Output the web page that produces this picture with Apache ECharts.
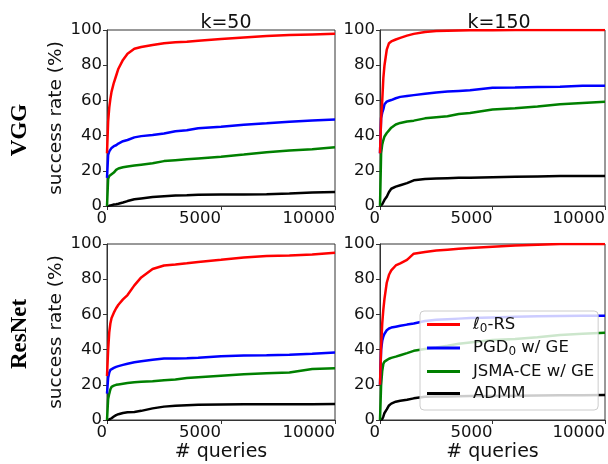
<!DOCTYPE html>
<html>
<head>
<meta charset="utf-8">
<script src="https://cdn.jsdelivr.net/npm/echarts@6/dist/echarts.min.js"></script>
<style>
  html, body { margin: 0; padding: 0; background: #fff; }
  #chart { width: 608px; height: 464px; }
</style>
</head>
<body>
<div id="chart"></div>
<script>
const queries = [0, 50, 100, 150, 200, 300, 400, 500, 700, 900, 1200, 1500, 2000, 2500, 3000, 3500, 4000, 5000, 6000, 7000, 8000, 9000, 10000];

const methods = ['ℓ0-RS', 'PGD0 w/ GE', 'JSMA-CE w/ GE', 'ADMM'];
const colors = ['#ff0000', '#0000ff', '#008000', '#000000'];

// VGG, k=50
const vgg50Rs    = [30, 48, 56, 61, 65, 70, 74, 78, 83, 86.5, 89.3, 90.3, 91.5, 92.5, 93, 93.3, 93.9, 94.9, 95.8, 96.6, 97.1, 97.5, 97.9];
const vgg50Pgd   = [16, 29, 31, 32, 33, 34, 34.5, 35.5, 36.8, 37.5, 39, 39.7, 40.3, 41.2, 42.5, 43, 44.2, 45, 46.2, 47, 47.9, 48.6, 49.1];
const vgg50Jsma  = [0, 15.5, 17, 17.5, 18, 19, 20.5, 21.3, 22, 22.5, 23, 23.5, 24.3, 25.5, 26, 26.5, 27, 28, 29.2, 30.6, 31.5, 32.3, 33.4];
const vgg50Admm  = [0, 0, 0.2, 0.3, 0.5, 0.8, 1, 1.3, 2, 2.8, 3.8, 4.3, 5.1, 5.6, 5.9, 6.1, 6.4, 6.5, 6.6, 6.7, 7.1, 7.6, 8];

// VGG, k=150
const vgg150Rs   = [30, 50, 60, 73, 80, 88.8, 92.5, 93.5, 94.6, 95.5, 96.8, 97.8, 98.9, 99.4, 99.6, 99.7, 99.8, 99.9, 100, 100, 100, 100, 100];
const vgg150Pgd  = [30, 50, 53, 55, 57.8, 59.3, 59.8, 60.2, 61.2, 62, 62.5, 63, 63.8, 64.5, 65, 65.4, 65.8, 67.2, 67.3, 67.6, 67.7, 68.3, 68.3];
const vgg150Jsma = [0, 30, 35, 37.5, 39.5, 41.5, 43, 44.5, 46.3, 47.2, 48, 48.5, 49.8, 50.4, 51, 52.3, 52.8, 54.8, 55.6, 56.6, 57.8, 58.5, 59.2];
const vgg150Admm = [0, 0, 1, 2, 3.5, 5.3, 8, 9.8, 11, 11.8, 13, 14.6, 15.3, 15.6, 15.8, 16, 16.1, 16.4, 16.6, 16.8, 17, 17.1, 17.1];

// ResNet, k=50
const res50Rs    = [25, 40, 50, 55, 58, 61, 63.5, 65.5, 68.5, 71, 76.5, 81, 85.8, 87.8, 88.3, 89, 89.8, 91, 92.3, 93.2, 93.5, 94, 95];
const res50Pgd   = [15, 24, 27, 28.5, 29, 29.6, 30.2, 30.6, 31.3, 32, 32.8, 33.4, 34.2, 34.9, 35, 35.1, 35.4, 36.2, 36.6, 36.8, 37.1, 37.6, 38.4];
const res50Jsma  = [0, 12, 15, 17.5, 18.8, 19.5, 20, 20.2, 20.6, 21, 21.5, 21.8, 22, 22.6, 23, 23.8, 24.3, 25.2, 26, 26.6, 27, 29, 29.4];
const res50Admm  = [0, 0, 0.3, 0.6, 1, 2, 2.8, 3.3, 4, 4.4, 4.6, 5.2, 6.6, 7.6, 8.1, 8.4, 8.6, 8.8, 8.9, 8.9, 8.9, 9, 9.1];

// ResNet, k=150
const res150Rs   = [20, 42, 55, 63, 69, 78, 82.5, 85, 87.8, 89, 91, 94.5, 95.5, 96.3, 96.8, 97.3, 97.7, 98.5, 99.1, 99.6, 100, 100, 100];
const res150Pgd  = [20, 40, 45, 47.5, 49, 51, 52, 52.5, 53, 53.5, 54.2, 54.8, 56.3, 57, 57.3, 57.6, 57.9, 58.3, 58.6, 58.9, 59.1, 59.2, 59.3];
const res150Jsma = [0, 20, 28, 32, 33.2, 34, 34.8, 35.3, 36, 36.8, 38, 39.3, 40.3, 41.2, 42.2, 43.3, 44, 45.4, 46, 47, 48.3, 49, 49.6];
const res150Admm = [0, 0, 0.5, 2, 4, 6, 8.3, 9.3, 10.4, 10.9, 11.5, 12.3, 13.2, 13.3, 13.4, 13.5, 13.6, 13.6, 13.8, 13.9, 14, 14.1, 14.2];

const panels = [
  [vgg50Rs, vgg50Pgd, vgg50Jsma, vgg50Admm],
  [vgg150Rs, vgg150Pgd, vgg150Jsma, vgg150Admm],
  [res50Rs, res50Pgd, res50Jsma, res50Admm],
  [res150Rs, res150Pgd, res150Jsma, res150Admm]
];

const xTicks = [0, 5000, 10000];
const yTicks = [0, 20, 40, 60, 80, 100];

const font = 'DejaVu Sans';
const axisColor = '#333';
const tickSize = 16.5;
const labelSize = 19;

const gridPos = [
  { left: 107, top: 30 },
  { left: 380, top: 30 },
  { left: 107, top: 244 },
  { left: 380, top: 244 }
];

const grids = gridPos.map(p => ({
  left: p.left, top: p.top, width: 228, height: 176,
  show: true, borderColor: axisColor, borderWidth: 1
}));

const xAxes = gridPos.map((p, i) => ({
  type: 'value', gridIndex: i,
  min: xTicks[0], max: xTicks[xTicks.length - 1], interval: 5000,
  splitLine: { show: false },
  axisLine: { show: true, lineStyle: { color: axisColor, width: 1 } },
  axisTick: { show: true, length: 4, lineStyle: { color: axisColor } },
  axisLabel: { fontFamily: font, fontSize: tickSize, color: '#111', align: 'right', margin: 4,
    formatter: v => String(v) },
  name: i >= 2 ? '# queries' : '',
  nameLocation: 'middle', nameGap: 23,
  nameTextStyle: { fontFamily: font, fontSize: labelSize, color: '#111' }
}));

const yAxes = gridPos.map((p, i) => ({
  type: 'value', gridIndex: i,
  min: yTicks[0], max: yTicks[yTicks.length - 1], interval: 20,
  splitLine: { show: false },
  axisLine: { show: true, lineStyle: { color: axisColor, width: 1 } },
  axisTick: { show: true, length: 4, lineStyle: { color: axisColor } },
  axisLabel: { fontFamily: font, fontSize: tickSize, color: '#111', margin: 5 },
  name: i % 2 === 0 ? 'success rate (%)' : '',
  nameLocation: 'middle', nameGap: 41,
  nameTextStyle: { fontFamily: font, fontSize: 18.5, color: '#111' }
}));

const series = [];
panels.forEach((vals, gi) => {
  vals.forEach((v, mi) => {
    series.push({
      name: methods[mi],
      type: 'line',
      xAxisIndex: gi, yAxisIndex: gi,
      data: queries.map((q, k) => [q, v[k]]),
      showSymbol: false,
      lineStyle: { color: colors[mi], width: 2.5 },
      itemStyle: { color: colors[mi] },
      z: 2 + (3 - mi)
    });
  });
});

const chart = echarts.init(document.getElementById('chart'));
chart.setOption({
  animation: false,
  backgroundColor: '#fff',
  title: [
    { text: 'k=50', left: 221, top: 9, textAlign: 'center',
      textStyle: { fontFamily: font, fontSize: labelSize, fontWeight: 'normal', color: '#111' } },
    { text: 'k=150', left: 494, top: 9, textAlign: 'center',
      textStyle: { fontFamily: font, fontSize: labelSize, fontWeight: 'normal', color: '#111' } }
  ],
  grid: grids,
  xAxis: xAxes,
  yAxis: yAxes,
  legend: {
    data: methods,
    orient: 'vertical',
    left: 420, top: 311,
    padding: [5, 4, 8, 7],
    itemGap: 5,
    itemWidth: 33, itemHeight: 3,
    icon: 'rect',
    backgroundColor: 'rgba(255,255,255,0.8)',
    borderColor: '#ccc', borderWidth: 1, borderRadius: 4,
    z: 10,
    formatter: function (name) {
      if (name === 'ℓ0-RS') return '{t|ℓ}{s|0}{t|-RS}';
      if (name === 'PGD0 w/ GE') return '{t|PGD}{s|0}{t| w/ GE}';
      return '{t|' + name + '}';
    },
    textStyle: {
      fontFamily: font, fontSize: tickSize, color: '#111', padding: [0, 0, 0, 8],
      rich: {
        t: { fontFamily: font, fontSize: tickSize, color: '#111', lineHeight: 20 },
        s: { fontFamily: font, fontSize: 12, color: '#111', lineHeight: 20, verticalAlign: 'bottom', padding: [6, 0, 0, 0] }
      }
    }
  },
  graphic: [
    { type: 'text', x: 20, y: 130, rotation: Math.PI / 2,
      style: { text: 'VGG', fontFamily: 'Liberation Serif', fontSize: 23, fontWeight: 'bold', fill: '#000', align: 'center', verticalAlign: 'middle' } },
    { type: 'text', x: 20, y: 334, rotation: Math.PI / 2,
      style: { text: 'ResNet', fontFamily: 'Liberation Serif', fontSize: 23, fontWeight: 'bold', fill: '#000', align: 'center', verticalAlign: 'middle' } }
  ],
  series: series
});
</script>
</body>
</html>
